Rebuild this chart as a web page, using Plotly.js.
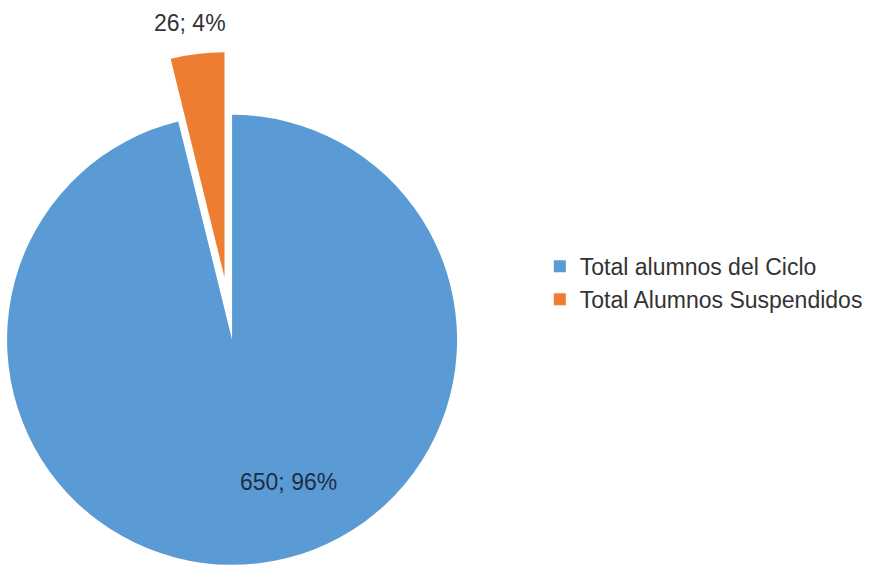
<!DOCTYPE html>
<html>
<head>
<meta charset="utf-8">
<script src="https://cdn.plot.ly/plotly-3.0.1.min.js"></script>
<style>
  html, body { margin:0; padding:0; overflow:hidden; background:#fff; width:874px; height:584px; }
  #chart { position:absolute; left:-57px; top:0px; width:934px; height:640px; }
</style>
</head>
<body>
<div id="chart"></div>
<script>
const labels = ["Total alumnos del Ciclo", "Total Alumnos Suspendidos"];
const values = [650, 26];
const colors = ["#5B9BD5", "#ED7D31"];
const pulls = [0, 0.28];

const FONT = "Liberation Sans, Arial, sans-serif";

const total = values.reduce((a, b) => a + b, 0);
const labelText = values.map(v => v + "; " + Math.round(100 * v / total) + "%");

const trace = {
  type: "pie",
  labels: labels,
  values: values,
  sort: false,
  direction: "clockwise",
  rotation: 0,
  pull: pulls,
  marker: { colors: colors, line: { width: 0 } },
  textinfo: "none",
  hoverinfo: "none",
  domain: { x: [0.001, 0.618], y: [0.019, 0.919] }
};

const layout = {
  width: 934,
  height: 640,
  margin: { l: 0, r: 0, t: 0, b: 0 },
  paper_bgcolor: "#ffffff",
  showlegend: true,
  legend: {
    x: 0.639, xanchor: "left",
    y: 0.558, yanchor: "middle",
    font: { family: FONT, size: 23, color: "#333333" },
    tracegroupgap: 0
  },
  annotations: [
    { xref: "paper", yref: "paper", x: 0.3694, y: 0.2469, xanchor: "center", yanchor: "middle",
      showarrow: false, text: labelText[0], font: { family: FONT, size: 23, color: "#1e2e45" } },
    { xref: "paper", yref: "paper", x: 0.2645, y: 0.964, xanchor: "center", yanchor: "middle",
      showarrow: false, text: labelText[1], font: { family: FONT, size: 23, color: "#333333" } }
  ]
};

Plotly.newPlot("chart", [trace], layout, { displayModeBar: false, staticPlot: true });
</script>
</body>
</html>
